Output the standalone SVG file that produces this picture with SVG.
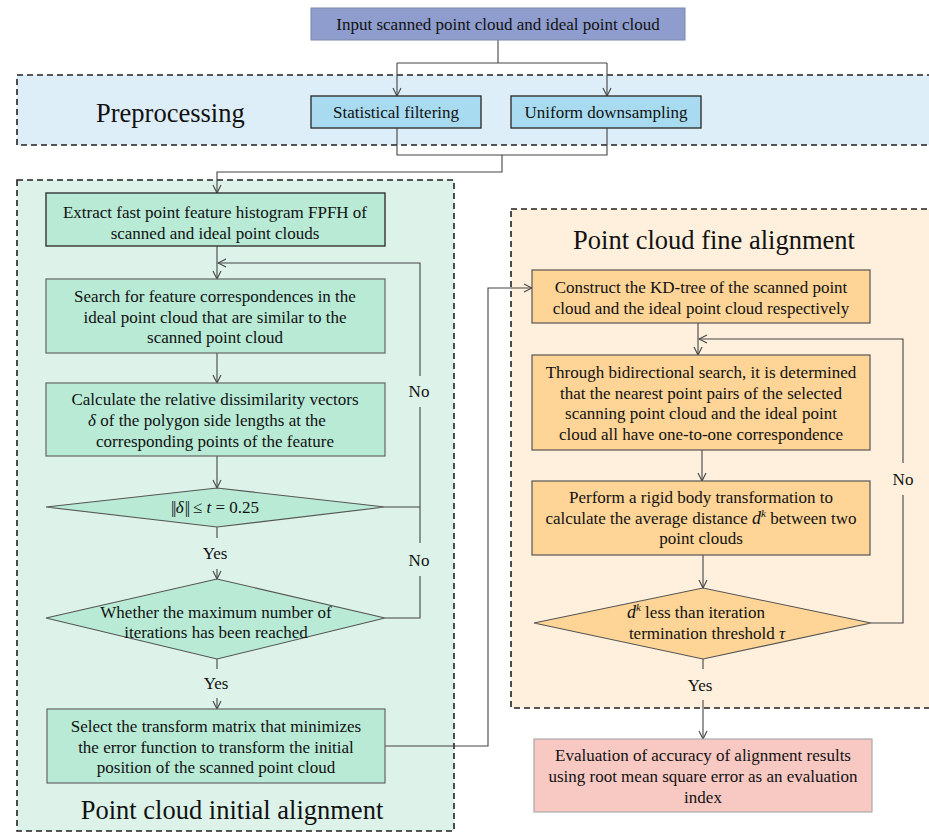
<svg xmlns="http://www.w3.org/2000/svg" width="929" height="833" viewBox="0 0 929 833">
<style>
text{font-family:"Liberation Serif","Times New Roman",serif;font-size:17px;fill:#111;text-anchor:middle}
.title{font-size:26.5px}
.grp{stroke:#222;stroke-width:1.6;stroke-dasharray:6,4}
.gnode{fill:#b8ead6;stroke:#666;stroke-width:1.2}
.onode{fill:#fed597;stroke:#555;stroke-width:1.2}
.conn path,.conn line{fill:none;stroke:#444;stroke-width:1.1}
.i{font-style:italic}
</style>
<defs>
<marker id="ah" viewBox="0 0 10 10" refX="9" refY="5" markerWidth="10" markerHeight="10" markerUnits="userSpaceOnUse" orient="auto">
<path d="M1,1 L9,5 L1,9" fill="none" stroke="#444" stroke-width="1.1"/>
</marker>
</defs>
<rect width="929" height="833" fill="#fff"/>

<g id="preprocessing">
<rect class="grp" x="17" y="75" width="930" height="70" fill="#ddeef8"/>
<text class="title" x="96" y="122" style="text-anchor:start">Preprocessing</text>
</g>
<g id="initial-alignment">
<rect class="grp" x="17" y="180" width="437" height="651" fill="#ddf3ea"/>
<text class="title" x="232" y="819">Point cloud initial alignment</text>
</g>
<g id="fine-alignment">
<rect class="grp" x="511" y="209" width="440" height="499" fill="#fef0dd"/>
<text class="title" x="714" y="249">Point cloud fine alignment</text>
</g>

<g id="connectors" class="conn">
<line x1="498" y1="40" x2="498" y2="63"/>
<path d="M397,63 H607"/>
<path d="M397,63 V96" marker-end="url(#ah)"/>
<path d="M607,63 V96" marker-end="url(#ah)"/>
<path d="M397,128 V155 H607 V128"/>
<path d="M502,155 V172 H217 V193" marker-end="url(#ah)"/>
<path d="M217,246 V279" marker-end="url(#ah)"/>
<path d="M217,353 V383" marker-end="url(#ah)"/>
<path d="M217,456 V488" marker-end="url(#ah)"/>
<path d="M217,527 V538"/>
<path d="M217,569 V579" marker-end="url(#ah)"/>
<path d="M385,507 H420"/>
<path d="M420,376 V263 H218" marker-end="url(#ah)"/>
<path d="M420,407 V543"/>
<path d="M385,618 H420 V576"/>
<path d="M217,659 V669"/>
<path d="M217,698 V709" marker-end="url(#ah)"/>
<path d="M385,746 H488 V288 H532" marker-end="url(#ah)"/>
<path d="M698,323 V355" marker-end="url(#ah)"/>
<path d="M702,450 V481" marker-end="url(#ah)"/>
<path d="M703,555 V588" marker-end="url(#ah)"/>
<path d="M871,623 H903 V495"/>
<path d="M903,463 V339 H699" marker-end="url(#ah)"/>
<path d="M703,659 V669"/>
<path d="M703,700 V739" marker-end="url(#ah)"/>
</g>

<g id="input">
<rect x="311" y="8" width="374" height="32" fill="#8e9dcd" stroke="#7a86aa" stroke-width="1"/>
<text x="498" y="30">Input scanned point cloud and ideal point cloud</text>
</g>
<g id="statistical-filtering">
<rect x="311" y="96" width="170" height="32" fill="#a8dbf0" stroke="#333" stroke-width="1.4"/>
<text x="396" y="118">Statistical filtering</text>
</g>
<g id="uniform-downsampling">
<rect x="511" y="96" width="190" height="32" fill="#a8dbf0" stroke="#333" stroke-width="1.4"/>
<text x="606" y="118">Uniform downsampling</text>
</g>

<g id="extract-fpfh">
<rect class="gnode" x="46" y="193" width="339" height="53" style="stroke:#333;stroke-width:1.4"/>
<text x="215" y="218">Extract fast point feature histogram FPFH of</text>
<text x="215" y="239">scanned and ideal point clouds</text>
</g>
<g id="search-correspondences">
<rect class="gnode" x="46" y="279" width="339" height="74"/>
<text x="215" y="302">Search for feature correspondences in the</text>
<text x="215" y="323">ideal point cloud that are similar to the</text>
<text x="215" y="343">scanned point cloud</text>
</g>
<g id="calculate-dissimilarity">
<rect class="gnode" x="46" y="383" width="339" height="73"/>
<text x="215" y="405">Calculate the relative dissimilarity vectors</text>
<text x="207" y="426"><tspan class="i">δ</tspan> of the polygon side lengths at the</text>
<text x="215" y="447">corresponding points of the feature</text>
</g>
<g id="threshold-check">
<polygon points="46,507 217,488 385,507 217,527" fill="#b8ead6" stroke="#555" stroke-width="1.1"/>
<text x="215" y="513"><tspan letter-spacing="-1.5">||</tspan><tspan class="i" dx="1">δ</tspan><tspan letter-spacing="-1.5" dx="1">||</tspan> ≤ <tspan class="i">t</tspan> = 0.25</text>
</g>
<g id="max-iterations">
<polygon points="46,618 217,579 385,618 217,659" fill="#b8ead6" stroke="#555" stroke-width="1.1"/>
<text x="216" y="618">Whether the maximum number of</text>
<text x="216" y="638">iterations has been reached</text>
</g>
<g id="select-transform">
<rect class="gnode" x="47" y="709" width="338" height="74"/>
<text x="216" y="732">Select the transform matrix that minimizes</text>
<text x="216" y="753">the error function to transform the initial</text>
<text x="216" y="773">position of the scanned point cloud</text>
</g>

<g id="construct-kdtree">
<rect class="onode" x="532" y="270" width="338" height="53"/>
<text x="701" y="293">Construct the KD-tree of the scanned point</text>
<text x="701" y="314">cloud and the ideal point cloud respectively</text>
</g>
<g id="bidirectional-search">
<rect class="onode" x="532" y="355" width="338" height="95"/>
<text x="701" y="378">Through bidirectional search, it is determined</text>
<text x="701" y="399">that the nearest point pairs of the selected</text>
<text x="701" y="419">scanning point cloud and the ideal point</text>
<text x="701" y="440">cloud all have one-to-one correspondence</text>
</g>
<g id="rigid-transform">
<rect class="onode" x="532" y="481" width="338" height="74"/>
<text x="701" y="503">Perform a rigid body transformation to</text>
<text x="701" y="524">calculate the average distance <tspan class="i" font-size="18">d</tspan><tspan class="i" font-size="11" dy="-7">k</tspan><tspan dy="7"> between two</tspan></text>
<text x="701" y="544">point clouds</text>
</g>
<g id="distance-check">
<polygon points="534,623 703,588 871,623 703,659" fill="#fed597" stroke="#555" stroke-width="1.1"/>
<text x="696" y="618"><tspan class="i" font-size="18">d</tspan><tspan class="i" font-size="11" dy="-7">k</tspan><tspan dy="7"> less than iteration</tspan></text>
<text x="707" y="639">termination threshold <tspan class="i">τ</tspan></text>
</g>
<g id="evaluation">
<rect x="534" y="739" width="338" height="73" fill="#f8c9c3" stroke="#aaa" stroke-width="1.2"/>
<text x="703" y="761">Evaluation of accuracy of alignment results</text>
<text x="703" y="782">using root mean square error as an evaluation</text>
<text x="703" y="803">index</text>
</g>

<g id="labels">
<text x="419" y="397">No</text>
<text x="419" y="566">No</text>
<text x="215" y="559">Yes</text>
<text x="216" y="689">Yes</text>
<text x="903" y="485">No</text>
<text x="700" y="691">Yes</text>
</g>
</svg>
